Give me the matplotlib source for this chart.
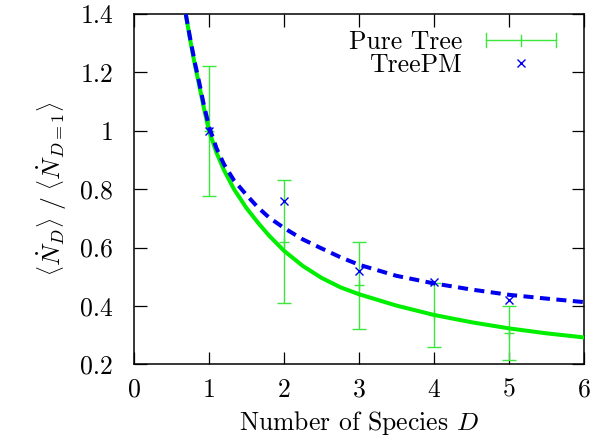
import matplotlib
matplotlib.use('Agg')
import matplotlib.pyplot as plt
from matplotlib.lines import Line2D
from matplotlib.legend_handler import HandlerBase
from matplotlib.ticker import FuncFormatter

plt.rcParams['font.family'] = 'cmr10'
plt.rcParams['mathtext.fontset'] = 'cm'
plt.rcParams['axes.formatter.use_mathtext'] = True

species = [1, 2, 3, 4, 5]
pure_tree = [1.0, 0.62, 0.47, 0.37, 0.308]
pure_tree_err = [0.222, 0.211, 0.15, 0.11, 0.092]
treepm = [1.0, 0.759, 0.52, 0.481, 0.42]

# fitted curves, sampled off the figure
fit_d = [0.69, 0.75, 0.81, 0.87, 0.93, 1.0, 1.1, 1.2, 1.333, 1.5, 1.65, 1.8,
         2.0, 2.25, 2.5, 2.75, 3.0, 3.5, 4.0, 4.5, 5.0, 5.5, 6.0]
fit_tree = [1.40, 1.31, 1.228, 1.155, 1.08, 1.0, 0.925, 0.865, 0.80, 0.735,
            0.686, 0.641, 0.589, 0.537, 0.496, 0.464, 0.44, 0.401, 0.369,
            0.344, 0.323, 0.306, 0.292]
fit_pm = [1.40, 1.315, 1.235, 1.165, 1.09, 1.015, 0.94, 0.885, 0.83, 0.78,
          0.738, 0.703, 0.667, 0.628, 0.597, 0.567, 0.541, 0.503, 0.477,
          0.456, 0.438, 0.425, 0.413]

green = '#00ee00'
bar_green = '#3ce63c'
blue = '#0000ee'
fs = 18.5


class ErrHandler(HandlerBase):
    # gnuplot style errorbar key: horizontal bar, end caps, centre tick
    def create_artists(self, legend, orig, xd, yd, w, h, fsz, trans):
        y = (h - yd) / 2
        x0, x1 = -xd, -xd + w
        c = 5
        lines = [Line2D([x0, x1], [y, y]),
                 Line2D([x0, x0], [y - c, y + c]),
                 Line2D([x1, x1], [y - c, y + c]),
                 Line2D([(x0 + x1) / 2] * 2, [y - c * 0.8, y + c * 0.8])]
        for ln in lines:
            ln.set_color(bar_green)
            ln.set_linewidth(1.0)
            ln.set_transform(trans)
        return lines


fig = plt.figure(figsize=(6.03, 4.37), dpi=100)
ax = fig.add_axes([0.2222, 0.1664, 0.7463, 0.8016])

eb = ax.errorbar(species, pure_tree, yerr=pure_tree_err, fmt='+', color=bar_green,
                 ecolor=bar_green, elinewidth=1.0, capsize=5, capthick=1.0,
                 markersize=7, markeredgewidth=1.0, label='Pure Tree', zorder=2)
pm, = ax.plot(species, treepm, 'x', color=blue, markersize=5.5, markeredgewidth=1.0,
              label='TreePM', zorder=4)
ax.plot(fit_d, fit_tree, '-', color=green, linewidth=2.9, zorder=3)
ax.plot(fit_d, fit_pm, '--', color=blue, linewidth=2.9, dashes=(2.5, 1.6), zorder=3)

ax.set_xlim(0, 6)
ax.set_ylim(0.2, 1.4)
ax.set_xticks([0, 1, 2, 3, 4, 5, 6])
ax.set_yticks([0.2, 0.4, 0.6, 0.8, 1.0, 1.2, 1.4])
fmt = FuncFormatter(lambda v, p: '%g' % v)
ax.xaxis.set_major_formatter(fmt)
ax.yaxis.set_major_formatter(fmt)
ax.tick_params(direction='in', length=9, width=0.9, top=True, right=True, labelsize=fs)
ax.tick_params(axis='x', pad=10)
ax.tick_params(axis='y', pad=15)
for s in ax.spines.values():
    s.set_linewidth(1.1)

ax.set_xlabel(r'Number of Species $D$', fontsize=fs, labelpad=5)
ax.set_ylabel(r'$\left\langle\dot{N}_D\right\rangle\ /\ \left\langle\dot{N}_{D=1}\right\rangle$',
              fontsize=fs, labelpad=8)

ax.legend([eb, pm], ['Pure Tree', 'TreePM'], handler_map={type(eb): ErrHandler()},
          loc='upper right', frameon=False, markerfirst=False, fontsize=fs,
          handlelength=2.72, handletextpad=0.93, labelspacing=-0.05,
          borderaxespad=0.7, bbox_to_anchor=(1.0, 1.034))

fig.savefig('out.png', dpi=100)
